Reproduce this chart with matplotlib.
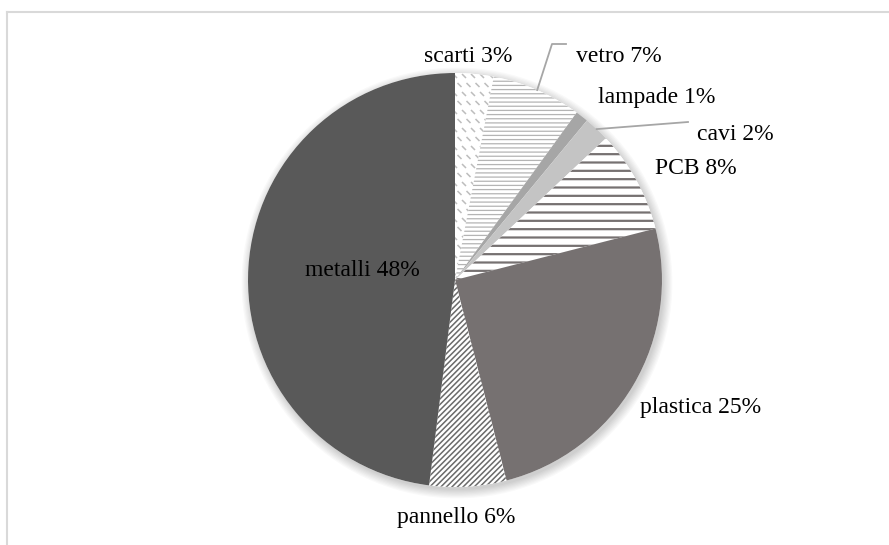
import numpy as np
import matplotlib
matplotlib.use("Agg")
import matplotlib.pyplot as plt
from matplotlib.patches import Circle
from matplotlib.collections import LineCollection

categories = ["scarti", "vetro", "lampade", "cavi", "PCB", "plastica", "pannello", "metalli"]
values = [3, 7, 1, 2, 8, 25, 6, 48]
labels = [f"{c} {v}%" for c, v in zip(categories, values)]

W, H = 889, 545
fig = plt.figure(figsize=(W / 100, H / 100), dpi=100)
ax = fig.add_axes([0, 0, 1, 1])

cx, cy, r = 455, H - 280, 207

faces = ["white", "white", "#a6a6a6", "#c4c4c4", "white", "#767171", "white", "#595959"]
hatches = [None, "----", None, None, "--", None, "//////", None]
hatch_colors = [None, "#b4b4b4", None, None, "#767171", None, "#6a6a6a", None]
hatch_lws = [None, 0.9, None, None, 1.6, None, 1.1, None]

# soft shadow under the pie
for k in range(8):
    ax.add_patch(Circle((cx + 2, cy - 3), r + 1.2 * k, color="black",
                        alpha=0.022, lw=0, zorder=0))
ax.add_patch(Circle((cx, cy), r, color="white", lw=0, zorder=0.5))

wedges, _ = ax.pie(values, startangle=90, counterclock=False, center=(cx, cy),
                   radius=r, colors=faces, frame=True,
                   wedgeprops=dict(linewidth=0))
for w, h, hc, hl in zip(wedges, hatches, hatch_colors, hatch_lws):
    w.set_zorder(1)
    if h:
        w.set_hatch(h)
        w.set_edgecolor(hc)
        w.set_linewidth(0)
        if hasattr(w, "set_hatch_linewidth"):
            w.set_hatch_linewidth(hl)

# dashed downward-diagonal fill for the "scarti" slice
segs = []
step = 9
for gx in np.arange(cx - 20, cx + 80, step):
    for j, gy in enumerate(np.arange(cy - 10, cy + r + 10, step)):
        sx = gx + (j % 2) * step / 2
        segs.append([(sx, gy), (sx + 4, gy - 4)])
dash = LineCollection(segs, colors="#bdbdbd", linewidths=1.1, zorder=1.5)
dash.set_clip_path(wedges[0])
ax.add_collection(dash)

ax.set_xlim(0, W)
ax.set_ylim(0, H)
ax.set_aspect("equal")
ax.axis("off")

def edge_point(i, frac=1.0):
    w = wedges[i]
    ang = np.deg2rad((w.theta1 + w.theta2) / 2)
    return cx + frac * r * np.cos(ang), cy + frac * r * np.sin(ang)

font = dict(family="Liberation Serif", fontsize=17, color="black")
lead = dict(color="#a6a6a6", lw=1.3, zorder=3)

# label placement (pixel coordinates, y measured from top)
ax.text(468, H - 56, labels[0], ha="center", va="center", **font)
ax.text(576, H - 56, labels[1], ha="left", va="center", **font)
ax.text(598, H - 97, labels[2], ha="left", va="center", **font)
ax.text(697, H - 135, labels[3], ha="left", va="center", **font)
ax.text(655, H - 168, labels[4], ha="left", va="center", **font)
ax.text(640, H - 407, labels[5], ha="left", va="center", **font)
ax.text(456, H - 517, labels[6], ha="center", va="center", **font)
ax.text(420, H - 270, labels[7], ha="right", va="center", **font)

# leader lines
x0, y0 = edge_point(1)
ax.plot([x0, 552, 566], [y0, H - 44, H - 44], **lead)
x0, y0 = edge_point(3)
ax.plot([x0, 688], [y0, H - 122], **lead)

# chart area border (left and top)
fig.add_artist(plt.Line2D([7 / W, 7 / W], [0, 1 - 12 / H], color="#d9d9d9", lw=1.5))
fig.add_artist(plt.Line2D([7 / W, 1], [1 - 12 / H, 1 - 12 / H], color="#d9d9d9", lw=1.5))

fig.savefig("out.png", dpi=100)
